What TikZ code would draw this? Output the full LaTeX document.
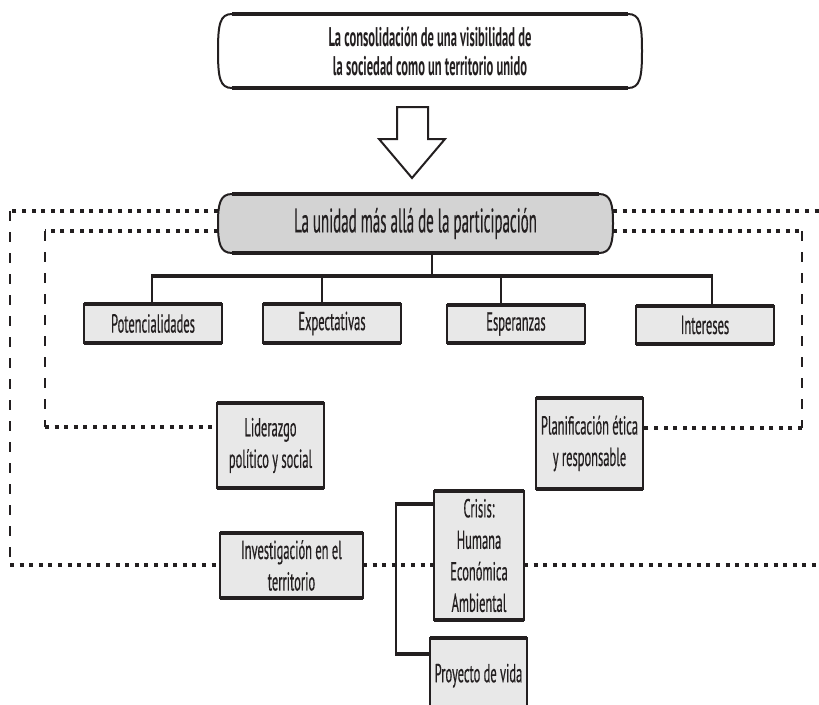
\documentclass[tikz,border=0pt]{standalone}
\usepackage{fontspec}
\setmainfont{PT Sans}
\newfontfamily\boxfont{PT Sans}[FakeStretch=0.48, FakeBold=0.4]
\newfontfamily\titlefont{PT Sans}[FakeStretch=0.465]
\newfontfamily\unityfont{PT Sans}[FakeStretch=0.44, FakeBold=0.4]
\usetikzlibrary{calc,backgrounds}
\definecolor{ink}{HTML}{231F20}
\definecolor{boxfill}{HTML}{E8E8E8}
\definecolor{mainfill}{HTML}{D3D3D3}
\tikzset{
  textbox/.style={rectangle, draw=ink, line width=1.5pt, fill=boxfill, inner sep=0pt, outer sep=0pt,
    align=center, text=ink, font=\boxfont\fontsize{26}{31.5}\selectfont},
  capnode/.style={rectangle, inner sep=0pt, outer sep=0pt, align=center, text=ink},
  capline/.style={draw=ink, line width=2pt},
  edgeline/.style={draw=ink, line width=3.2pt},
  dotline/.style={draw=ink, line width=3.5pt, dash pattern=on 4pt off 5.6pt},
  dashline/.style={draw=ink, line width=2pt, dash pattern=on 10pt off 11pt},
  treebar/.style={draw=ink, line width=4pt},
  treestem/.style={draw=ink, line width=1.5pt},
  hollowarrow/.style={draw=ink, line width=2pt, fill=white, line join=miter},
}
\newcommand\capsuleshape[2]{%
  \draw[capline,#2] ($(#1.north west)+(14,0)$) -- ($(#1.north east)+(-14,0)$)
    .. controls ($(#1.north east)+(-2,0)$) and ($(#1.north east)+(0,10)$) .. (#1.east)
    .. controls ($(#1.south east)+(0,-10)$) and ($(#1.south east)+(-2,0)$) .. ($(#1.south east)+(-14,0)$)
    -- ($(#1.south west)+(14,0)$)
    .. controls ($(#1.south west)+(2,0)$) and ($(#1.south west)+(0,-10)$) .. (#1.west)
    .. controls ($(#1.north west)+(0,10)$) and ($(#1.north west)+(2,0)$) .. cycle;
  \draw[edgeline] ($(#1.north west)+(14,0)$) -- ($(#1.north east)+(-14,0)$);
  \draw[edgeline] ($(#1.south west)+(14,0)$) -- ($(#1.south east)+(-14,0)$);
}
\newcommand\boxedges[1]{%
  \draw[edgeline] (#1.north west) -- (#1.north east);
  \draw[edgeline] (#1.south west) -- (#1.south east);
}
\begin{document}
\begin{tikzpicture}[x=1pt,y=-1pt]
\useasboundingbox (0,0) rectangle (819,704);
\clip (0,0) rectangle (819,704);

% top capsule
\node[capnode, minimum width=424pt, minimum height=74pt,
      font=\titlefont\bfseries\fontsize{27}{29}\selectfont] (T) at (430,51)
  {La consolidación de una visibilidad de\\la sociedad como un territorio unido};
\begin{scope}[on background layer]
  \capsuleshape{T}{fill=white}
\end{scope}

% hollow arrow
\draw[hollowarrow] (397,107) -- (428,107) -- (428,139) -- (445,139) -- (412,178) -- (379,139) -- (397,139) -- cycle;

% main capsule
\node[capnode, minimum width=395pt, minimum height=59pt,
      font=\unityfont\fontsize{34}{36}\selectfont] (M) at (415.5,223.5)
  {La unidad más allá de la participación};
\begin{scope}[on background layer]
  \capsuleshape{M}{fill=mainfill}
\end{scope}

% boxes
\node[textbox, minimum width=138pt, minimum height=39pt] (pot) at (153,323.5) {Potencialidades};
\node[textbox, minimum width=138pt, minimum height=39pt] (exp) at (332,323.5) {Expectativas};
\node[textbox, minimum width=138pt, minimum height=38pt] (esp) at (516,324) {Esperanzas};
\node[textbox, minimum width=138pt, minimum height=38pt] (int) at (705,325) {Intereses};
\node[textbox, minimum width=107pt, minimum height=85pt] (lid) at (270.5,445.5) {Liderazgo\\político y social};
\node[textbox, minimum width=107pt, minimum height=91pt] (pla) at (589.5,443.5) {Planificación ética\\y responsable};
\node[textbox, minimum width=143pt, minimum height=65pt] (inv) at (291.5,565.5) {Investigación en el\\territorio};
\node[textbox, minimum width=90pt, minimum height=129pt] (cri) at (479,555.5) {Crisis:\\Humana\\Económica\\Ambiental};
\node[textbox, minimum width=97pt, minimum height=70pt, text depth=0pt] (pro) at (478.5,673) {Proyecto de vida};
\foreach \n in {pot,exp,esp,int,lid,pla,inv,cri,pro} {\boxedges{\n}}

% tree
\coordinate (barL) at (152,276);
\coordinate (barR) at (712,276);
\coordinate (barM) at (432,276);
\coordinate (dExp) at (322,276);
\coordinate (dEsp) at (501,276);
\draw[treestem] (barM) -- (barM |- M.south);
\draw[treestem] (barL) -- (barL |- pot.north);
\draw[treestem] (dExp) -- (dExp |- exp.north);
\draw[treestem] (dEsp) -- (dEsp |- esp.north);
\draw[treestem] (barR) -- (barR |- int.north);
\draw[treebar] ($(barL)+(-0.75,0)$) -- ($(barR)+(0.75,0)$);

% bracket
\coordinate (bT) at (396,504);
\coordinate (bB) at (396,654);
\draw[treestem] (bT) -- (bB);
\draw[treebar] ($(bT)+(-0.75,0)$) -- (bT -| cri.west);
\draw[treebar] ($(bB)+(-0.75,0)$) -- (bB -| pro.west);

% outer frame
\coordinate (o1) at (10,211);
\coordinate (o2) at (10,565);
\coordinate (o3) at (819,211);
\coordinate (o4) at (819,565);
\draw[dotline] (M.west |- o1) -- (o1);
\draw[dashline] (o1) -- (o2);
\draw[dotline] (o2) -- (inv.west |- o2);
\draw[dotline] (inv.east |- o2) -- (cri.west |- o2);
\draw[dotline] (cri.east |- o4) -- (o4);
\draw[dotline] (M.east |- o3) -- (o3);

% inner frame
\coordinate (i1) at (45,231);
\coordinate (i2) at (45,427);
\coordinate (i3) at (802,231);
\coordinate (i4) at (802,428);
\draw[dotline] (M.west |- i1) -- (i1);
\draw[dashline] (i1) -- (i2);
\draw[dotline] (i2) -- (lid.west |- i2);
\draw[dotline] (M.east |- i3) -- (i3);
\draw[dashline] (i3) -- (i4);
\draw[dotline] (i4) -- (pla.east |- i4);
\end{tikzpicture}
\end{document}
